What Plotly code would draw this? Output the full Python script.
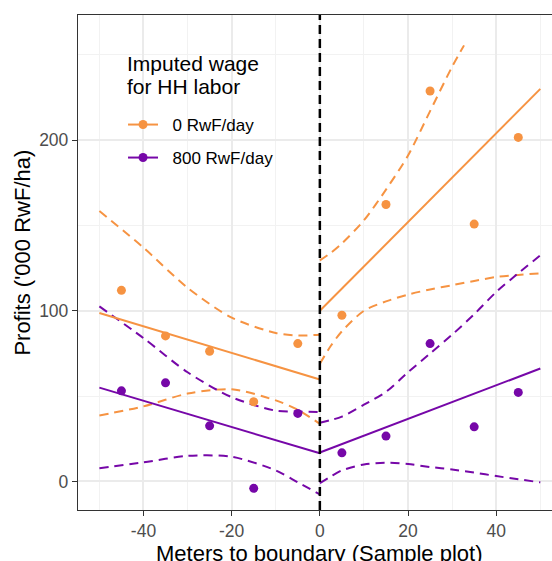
import plotly.graph_objects as go

# Binned plot-level profits by distance to the boundary (metres)
distance_bins = [-45, -35, -25, -15, -5, 5, 15, 25, 35, 45]
profit_wage0 = [112, 85.3, 76.3, 46.7, 80.8, 97.4, 162.3, 228.8, 150.8, 201.6]
profit_wage800 = [53.1, 57.8, 32.6, -4.0, 39.9, 16.8, 26.6, 80.8, 32.0, 52.2]

# Linear fits on each side of the boundary
fit_x_left = [-50, 0]
fit_x_right = [0, 50]
fit_wage0_left = [98.7, 59.8]
fit_wage0_right = [100.0, 230.0]
fit_wage800_left = [55.0, 16.5]
fit_wage800_right = [17.0, 66.2]

# Confidence bands around the fits
ci_x_left = [-50, -40, -30, -20, -10, -5, 0]
ci_wage0_left_hi = [158.5, 137, 113.5, 96, 87, 85.5, 86]
ci_wage0_left_lo = [38.7, 44, 51.5, 54, 47.5, 42, 33.8]
ci_wage800_left_hi = [102.6, 84, 64, 49.4, 41.5, 41, 40.6]
ci_wage800_left_lo = [7.8, 11.2, 15, 14.5, 6.5, -0.5, -7.5]

ci_x_right_hi0 = [0, 2.5, 5, 10, 15, 20, 25, 30, 32.7]
ci_wage0_right_hi = [129.5, 134, 139.5, 153, 171, 191, 217, 243, 255.5]
ci_x_right = [0, 2.5, 5, 10, 15, 20, 25, 30, 35, 40, 45, 50]
ci_wage0_right_lo = [69, 79.5, 88, 100, 105.5, 109.5, 112.5, 115, 117.5, 119.8, 121, 122]
ci_wage800_right_hi = [34.4, 36, 38, 45, 52.5, 64, 75, 86, 98, 111, 122, 132.5]
ci_wage800_right_lo = [-1, 3, 6.5, 10, 11, 10.2, 8.5, 7, 5.2, 3.2, 1.3, -0.5]

# Axis ticks
x_ticks = [-40, -20, 0, 20, 40]
x_tick_labels = ["-40", "-20", "0", "20", "40"]
y_ticks = [0, 100, 200]

BOUNDARY = 0
series_names = ["0 RwF/day", "800 RwF/day"]
legend_title_lines = ["Imputed wage", "for HH labor"]
ORANGE = "#F69342"
PURPLE = "#7607A8"
FONT = "Liberation Sans, Arial, Helvetica, sans-serif"

fig = go.Figure()


def band(x, y, color):
    fig.add_trace(go.Scatter(
        x=x, y=y, mode="lines",
        line=dict(color=color, width=2, dash="9px,6px", shape="spline", smoothing=0.8),
        showlegend=False, hoverinfo="skip"))


def fit(x, y, color):
    fig.add_trace(go.Scatter(
        x=x, y=y, mode="lines", line=dict(color=color, width=2),
        showlegend=False, hoverinfo="skip"))


for color, left_hi, left_lo, right_hi_x, right_hi, right_lo in [
    (ORANGE, ci_wage0_left_hi, ci_wage0_left_lo, ci_x_right_hi0, ci_wage0_right_hi, ci_wage0_right_lo),
    (PURPLE, ci_wage800_left_hi, ci_wage800_left_lo, ci_x_right, ci_wage800_right_hi, ci_wage800_right_lo),
]:
    band(ci_x_left, left_hi, color)
    band(ci_x_left, left_lo, color)
    band(right_hi_x, right_hi, color)
    band(ci_x_right, right_lo, color)

fit(fit_x_left, fit_wage0_left, ORANGE)
fit(fit_x_right, fit_wage0_right, ORANGE)
fit(fit_x_left, fit_wage800_left, PURPLE)
fit(fit_x_right, fit_wage800_right, PURPLE)

for name, values, color, legend_id in [(series_names[0], profit_wage0, ORANGE, "legend"),
                                       (series_names[1], profit_wage800, PURPLE, "legend2")]:
    fig.add_trace(go.Scatter(
        x=distance_bins, y=values, mode="markers",
        marker=dict(color=color, size=9), showlegend=False, name=name))
    # legend key: point on a line segment
    fig.add_trace(go.Scatter(
        x=[None], y=[None], mode="lines+markers", name="\u00a0\u00a0" + name,
        legend=legend_id,
        marker=dict(color=color, size=9), line=dict(color=color, width=2)))

# boundary marker
fig.add_shape(type="line", xref="x", yref="paper", x0=BOUNDARY, x1=BOUNDARY, y0=0, y1=1,
              line=dict(color="black", width=2.5, dash="9px,5px"))

# legend background panel (above the grid, below the data)
fig.add_shape(type="rect", xref="paper", yref="paper",
              x0=0.0781, x1=0.4304, y0=0.6505, y1=0.9495,
              fillcolor="white", line=dict(width=0), layer="between")

axis_common = dict(
    showline=True, linecolor="#333333", linewidth=1.3,
    ticks="outside", ticklen=5, tickwidth=1.3, tickcolor="#333333",
    tickfont=dict(family=FONT, size=17.5, color="#4D4D4D"),
    showgrid=True, gridcolor="#EBEBEB", gridwidth=1.5, zeroline=False,
)

fig.update_xaxes(
    range=[-54.85, 52.65], tickvals=x_ticks, ticktext=x_tick_labels, mirror=True,
    minor=dict(tickvals=[-50, -30, -10, 10, 30, 50], showgrid=True, gridcolor="#F2F2F2", gridwidth=1, ticks=""),
    **axis_common)
fig.update_yaxes(
    range=[-16.7, 273.3], tickvals=y_ticks,
    minor=dict(tickvals=[50, 150, 250], showgrid=True, gridcolor="#F2F2F2", gridwidth=1, ticks=""),
    **axis_common)

fig.add_annotation(text="Meters to boundary (Sample plot)", xref="x", yref="paper",
                   x=0, y=-0.087, xanchor="center", yanchor="middle", showarrow=False,
                   font=dict(family=FONT, size=22, color="black"))
fig.add_annotation(text="Profits ('000 RwF/ha)", xref="paper", yref="paper",
                   x=-0.116, y=0.52, xanchor="center", yanchor="middle", textangle=-90, showarrow=False,
                   font=dict(family=FONT, size=22, color="black"))

# legend title, one annotation per line
for line, ypos in zip(legend_title_lines, [0.903, 0.855]):
    fig.add_annotation(text=line, xref="paper", yref="paper", x=0.1, y=ypos,
                       xanchor="left", yanchor="middle", showarrow=False,
                       font=dict(family=FONT, size=21, color="black"))

legend_common = dict(xanchor="left", yanchor="middle", bgcolor="rgba(0,0,0,0)", borderwidth=0,
                     font=dict(family=FONT, size=17, color="black"))

fig.update_layout(
    width=552, height=561,
    margin=dict(l=78, r=0, t=15, b=51),
    plot_bgcolor="white", paper_bgcolor="white",
    font=dict(family=FONT),
    legend=dict(x=0.095, y=(510 - 125) / 495, **legend_common),
    legend2=dict(x=0.095, y=(510 - 158) / 495, **legend_common),
)

fig.write_html("out.html")
